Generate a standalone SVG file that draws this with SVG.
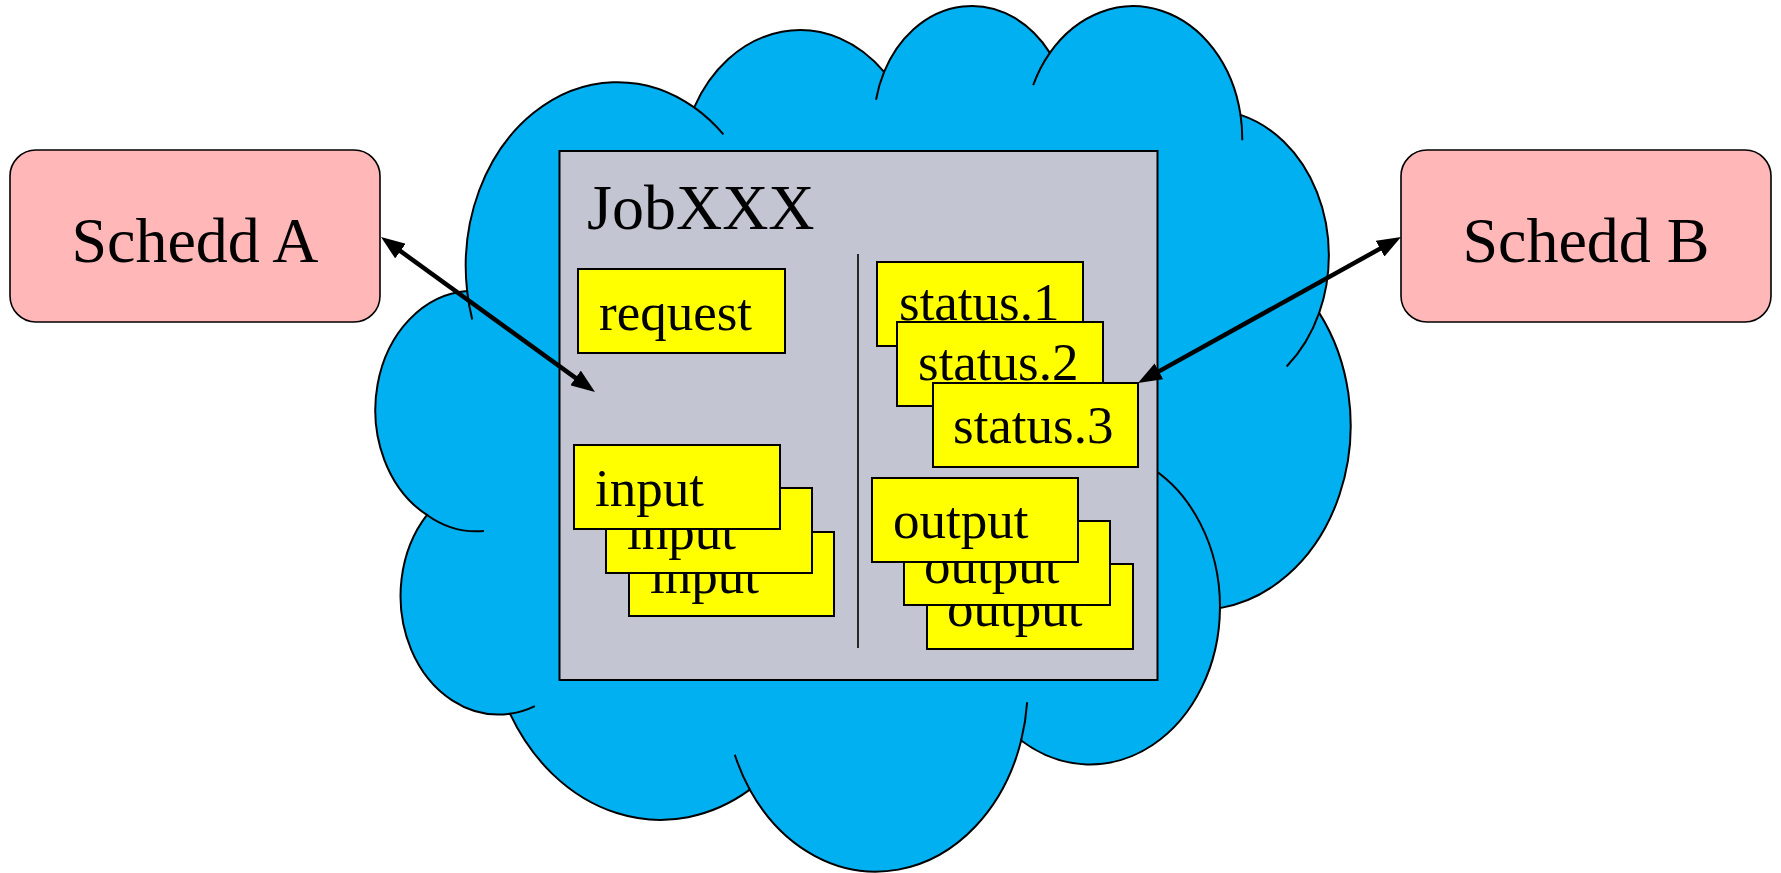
<svg xmlns="http://www.w3.org/2000/svg" width="1781" height="873" viewBox="0 0 1781 873">
<style>
.big{font-family:"Liberation Serif","Times New Roman",serif;font-size:64px;fill:#000}
.item{font-family:"Liberation Serif","Times New Roman",serif;font-size:53px;fill:#000}
.yel{fill:#FFFF00;stroke:#000;stroke-width:2}
.sched{fill:#FFB7B7;stroke:#000;stroke-width:1.6}
.cl{fill:#00B0F0;stroke:#000;stroke-width:2;vector-effect:non-scaling-stroke}
.cli{fill:none;stroke:#000;stroke-width:2;vector-effect:non-scaling-stroke}
.conn{stroke:#000;stroke-width:4.5;fill:none}
</style>
<defs>
<marker id="ah" markerUnits="userSpaceOnUse" viewBox="0 0 24 18" markerWidth="24" markerHeight="18" refX="14" refY="9" orient="auto-start-reverse">
<path d="M0,0 L24,9 L0,18 z" fill="#000"/>
</marker>
</defs>
<rect width="1781" height="873" fill="#fff"/>
<g id="cloud" transform="translate(379.5,3.2) scale(0.02247,0.02003)">
<path class="cl" d="M3900 14370 A6753 9190 0 0 1 14005 5201.9 A5333 7267 0 0 1 22456.3 3430.7 A4365 5945 0 0 1 29833.8 2479.7 A4857 6595 0 0 1 38318.6 5575.3 A5333 7273 0 0 1 41818.9 15459 A6775 9220 0 0 1 37404.2 30201.1 A5785 7867 0 0 1 28556 36811.4 A6752 9215 0 0 1 16481.6 39264.9 A7720 10543 0 0 1 5805.5 35470.7 A4360 5918 0 0 1 2113.6 25549.6 A4345 5945 0 0 1 3900 14370 Z"/>
<path class="cli" d="M4646.6 26346.5 A4345 5945 0 0 1 2113.6 25549.6 M6913.6 35089.1 A4360 5918 0 0 1 5805.5 35470.7 M16481.6 39264.9 A6752 9215 0 0 1 15812.9 37523 M28822.6 34902.2 A6752 9215 0 0 1 28556 36811.4 M34152.9 23065.5 A5785 7867 0 0 1 37404.2 30201.1 M41818.9 15459 A5333 7273 0 0 1 40370.9 18135 M38318.6 5575.3 A4857 6595 0 0 1 38395.1 6838.6 M29091.4 4093.1 A4857 6595 0 0 1 29833.8 2479.7 M22097 4819.6 A4365 5945 0 0 1 22456.3 3430.7 M14005 5201.9 A6753 9190 0 0 1 15304.7 6550.2 M4127 15789 A6753 9190 0 0 1 3900 14370"/>
</g>
<g id="job-box">
<rect x="559.5" y="151" width="598" height="529" fill="#C4C5D2" stroke="#000" stroke-width="2"/>
<text class="big" x="587" y="229">JobXXX</text>
<line x1="858" y1="254" x2="858" y2="648" stroke="#000" stroke-width="1.6"/>
</g>
<g id="request"><rect class="yel" x="578" y="269" width="207" height="84"/><text class="item" x="599" y="330">request</text></g>
<g id="input-3"><rect class="yel" x="629" y="532" width="205" height="84"/><text class="item" x="650" y="593">input</text></g>
<g id="input-2"><rect class="yel" x="606" y="488" width="206" height="85"/><text class="item" x="627" y="549">input</text></g>
<g id="input-1"><rect class="yel" x="574" y="445" width="206" height="84"/><text class="item" x="595" y="506">input</text></g>
<g id="status-1"><rect class="yel" x="877" y="262" width="206" height="84"/><text class="item" x="899" y="320">status.1</text></g>
<g id="status-2"><rect class="yel" x="897" y="322" width="206" height="84"/><text class="item" x="918" y="380">status.2</text></g>
<g id="status-3"><rect class="yel" x="933" y="383" width="205" height="84"/><text class="item" x="953" y="443">status.3</text></g>
<g id="output-3"><rect class="yel" x="927" y="564" width="206" height="85"/><text class="item" x="947" y="626">output</text></g>
<g id="output-2"><rect class="yel" x="904" y="521" width="206" height="84"/><text class="item" x="924" y="583">output</text></g>
<g id="output-1"><rect class="yel" x="872" y="478" width="206" height="84"/><text class="item" x="893" y="538">output</text></g>
<g id="schedd-a"><rect class="sched" x="10" y="150" width="370" height="172" rx="26" ry="26"/><text class="big" x="195" y="262" text-anchor="middle">Schedd A</text></g>
<g id="schedd-b"><rect class="sched" x="1401" y="150" width="370" height="172" rx="26" ry="26"/><text class="big" x="1586" y="262" text-anchor="middle">Schedd B</text></g>
<g id="connectors">
<line class="conn" x1="389.1" y1="242.9" x2="586.9" y2="386.1" marker-start="url(#ah)" marker-end="url(#ah)"/>
<line class="conn" x1="1392.3" y1="241.9" x2="1146.7" y2="378.1" marker-start="url(#ah)" marker-end="url(#ah)"/>
</g>
</svg>
